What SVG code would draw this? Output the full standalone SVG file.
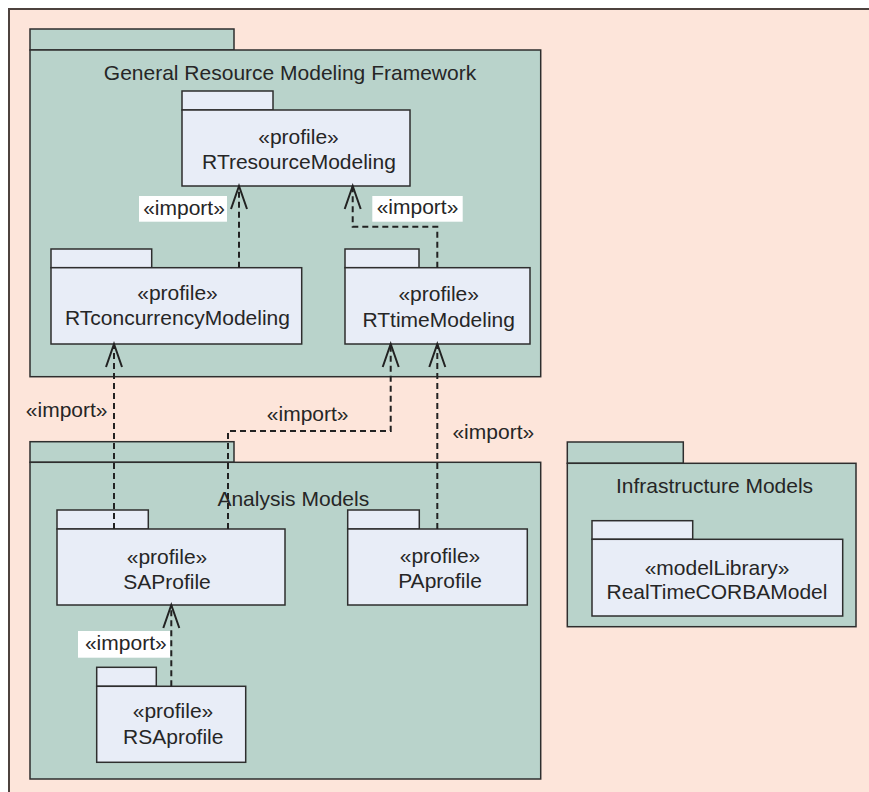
<svg xmlns="http://www.w3.org/2000/svg" width="869" height="792" viewBox="0 0 869 792">
  <style>
    .frame { fill: #fde5da; stroke: #4d423e; stroke-width: 2; }
    .pkg { fill: #b9d3cb; stroke: #2e2e2e; stroke-width: 1.5; }
    .prof { fill: #e8edf7; stroke: #2e2e2e; stroke-width: 1.5; }
    text { font-family: "Liberation Sans", Arial, Helvetica, sans-serif; font-size: 21px; fill: #262626; text-anchor: middle; }
    .dep { fill: none; stroke: #222; stroke-width: 2; stroke-dasharray: 6 4; }
    .lblbox { fill: #ffffff; stroke: none; }
  </style>
  <defs>
    <marker id="open-arrow" markerUnits="userSpaceOnUse" markerWidth="30" markerHeight="24" refX="24" refY="10" orient="auto" viewBox="0 0 30 20">
      <path d="M1,2 L24,10 L1,18" fill="none" stroke="#222" stroke-width="2"/>
    </marker>
  </defs>

  <rect width="869" height="792" fill="#ffffff"/>
  <rect class="frame" x="9" y="9" width="900" height="820"/>

  <!-- General Resource Modeling Framework -->
  <g id="grmf">
    <rect class="pkg" x="30" y="29" width="204" height="21"/>
    <rect class="pkg" x="30" y="50" width="510.7" height="326.7"/>
    <text x="290" y="79.5">General Resource Modeling Framework</text>
  </g>

  <g id="rtresource">
    <rect class="prof" x="182" y="91" width="91" height="19"/>
    <rect class="prof" x="182" y="110" width="228" height="76"/>
    <text x="298.5" y="144">«profile»</text>
    <text x="299" y="168.5">RTresourceModeling</text>
  </g>

  <g id="rtconcurrency">
    <rect class="prof" x="51" y="249" width="100.7" height="18.7"/>
    <rect class="prof" x="51" y="267.7" width="250.7" height="76.3"/>
    <text x="177.5" y="300">«profile»</text>
    <text x="177.5" y="325">RTconcurrencyModeling</text>
  </g>

  <g id="rttime">
    <rect class="prof" x="345" y="249" width="74" height="18.7"/>
    <rect class="prof" x="345" y="267.7" width="185" height="76.3"/>
    <text x="438.7" y="300.7">«profile»</text>
    <text x="438.7" y="326.7">RTtimeModeling</text>
  </g>

  <!-- Analysis Models -->
  <g id="analysis">
    <rect class="pkg" x="30" y="441.7" width="204" height="20.6"/>
    <rect class="pkg" x="30" y="462.3" width="510.7" height="316.7"/>
    <text x="293.3" y="506">Analysis Models</text>
  </g>

  <g id="saprofile">
    <rect class="prof" x="57" y="510" width="91.3" height="19"/>
    <rect class="prof" x="57" y="529" width="228" height="76"/>
    <text x="167" y="563.5">«profile»</text>
    <text x="167" y="589">SAProfile</text>
  </g>

  <g id="paprofile">
    <rect class="prof" x="347.7" y="510" width="71.6" height="19"/>
    <rect class="prof" x="347.7" y="529" width="179.6" height="76"/>
    <text x="440" y="562.7">«profile»</text>
    <text x="440" y="587.7">PAprofile</text>
  </g>

  <g id="rsaprofile">
    <rect class="prof" x="96.7" y="667.3" width="59.6" height="19"/>
    <rect class="prof" x="96.7" y="686.3" width="149" height="76"/>
    <text x="173" y="718">«profile»</text>
    <text x="173.3" y="744">RSAprofile</text>
  </g>

  <!-- Infrastructure Models -->
  <g id="infrastructure">
    <rect class="pkg" x="567.3" y="442" width="116" height="21.3"/>
    <rect class="pkg" x="567.3" y="463.3" width="288.7" height="163.4"/>
    <text x="714.5" y="492.7">Infrastructure Models</text>
  </g>

  <g id="realtimecorba">
    <rect class="prof" x="592" y="520.7" width="100.7" height="18.6"/>
    <rect class="prof" x="592" y="539.3" width="250.7" height="76.7"/>
    <text x="717" y="575">«modelLibrary»</text>
    <text x="717" y="599.3">RealTimeCORBAModel</text>
  </g>

  <!-- import dependencies -->
  <g id="connectors">
    <path class="dep" d="M239,267.7 V186" marker-end="url(#open-arrow)"/>
    <path class="dep" d="M437.3,267.7 V226.7 H352.7 V186" marker-end="url(#open-arrow)"/>
    <path class="dep" d="M114,529 V344" marker-end="url(#open-arrow)"/>
    <path class="dep" d="M228,529 V431 H390.7 V344" marker-end="url(#open-arrow)"/>
    <path class="dep" d="M437.3,529 V344" marker-end="url(#open-arrow)"/>
    <path class="dep" d="M171.3,686.3 V605" marker-end="url(#open-arrow)"/>

    <rect class="lblbox" x="139" y="196" width="88" height="25.7"/>
    <text x="184" y="215">«import»</text>
    <rect class="lblbox" x="372.3" y="196" width="90.4" height="25.7"/>
    <text x="417.5" y="214">«import»</text>
    <text x="66.7" y="416.5">«import»</text>
    <text x="307.7" y="421">«import»</text>
    <text x="493.3" y="439">«import»</text>
    <rect class="lblbox" x="78" y="631" width="92" height="26.7"/>
    <text x="125.8" y="650">«import»</text>
  </g>
</svg>
